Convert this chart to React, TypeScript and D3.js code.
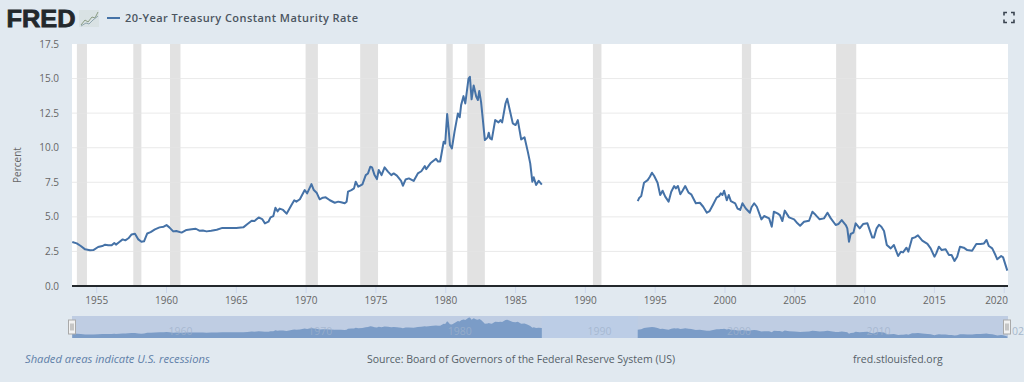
import React from "react";
import * as d3 from "d3";

const W = 1024, H = 382;
const FONT = "'Open Sans', 'Noto Sans', sans-serif";

const seriesName = "20-Year Treasury Constant Maturity Rate";
const yTicks = [0, 2.5, 5, 7.5, 10, 12.5, 15, 17.5];
const xTicks = [1955, 1960, 1965, 1970, 1975, 1980, 1985, 1990, 1995, 2000, 2005, 2010, 2015, 2020];
const navTicks = [1960, 1970, 1980, 1990, 2000, 2010];

const recessionStarts = [1953.58, 1957.62, 1960.25, 1969.96, 1973.87, 1980.04, 1981.54, 1990.54, 2001.21, 2007.96];
const recessionEnds = [1954.3, 1958.2, 1961.0, 1970.84, 1975.15, 1980.5, 1982.8, 1991.15, 2001.87, 2009.4];

const earlyYears = [1953.25,1953.57,1953.86,1954.17,1954.52,1954.76,1955.1,1955.4,1955.6,1955.83,1956.07,1956.26,1956.38,1956.62,1956.86,1957.05,1957.27,1957.5,1957.74,1957.98,1958.2,1958.39,1958.62,1958.86,1959.17,1959.5,1959.8,1960,1960.2,1960.48,1960.7,1961.08,1961.43,1961.8,1962.1,1962.35,1962.6,1962.87,1963.2,1963.6,1964,1964.4,1965,1965.5,1965.8,1966.1,1966.3,1966.6,1966.85,1967.05,1967.3,1967.45,1967.65,1967.8,1967.95,1968.1,1968.35,1968.6,1968.95,1969.15,1969.3,1969.55,1969.9,1970.07,1970.38,1970.55,1970.75,1970.97,1971.2,1971.4,1971.7,1972.05,1972.3,1972.5,1972.76,1972.9,1973,1973.24,1973.43,1973.55,1973.74,1974.03,1974.27,1974.43,1974.6,1974.72,1974.9,1975.07,1975.2,1975.4,1975.62,1975.86,1976.1,1976.27,1976.5,1976.8,1976.93,1977.12,1977.36,1977.7,1978,1978.25,1978.5,1978.6,1978.9,1979.3,1979.45,1979.6,1979.85,1979.96,1980.1,1980.2,1980.3,1980.44,1980.63,1980.87,1981,1981.1,1981.27,1981.4,1981.63,1981.73,1981.85,1982,1982.18,1982.3,1982.4,1982.53,1982.66,1982.8,1983,1983.08,1983.18,1983.3,1983.54,1983.78,1983.92,1984.04,1984.28,1984.4,1984.5,1984.8,1985,1985.16,1985.4,1985.64,1985.88,1986.05,1986.2,1986.3,1986.47,1986.66,1986.88];
const earlyRates = [3.18,3.08,2.89,2.65,2.58,2.6,2.82,2.89,2.99,2.94,2.94,3.11,2.99,3.18,3.37,3.3,3.45,3.73,3.78,3.37,3.2,3.23,3.8,3.9,4.1,4.24,4.29,4.41,4.24,3.95,3.98,3.86,4.05,4.1,4.14,4,4.02,3.95,4,4.07,4.2,4.19,4.19,4.24,4.48,4.72,4.7,4.96,4.84,4.53,4.65,4.96,5.06,5.66,5.4,5.6,5.5,5.23,5.86,6.2,6.1,6.27,6.94,6.7,7.37,6.94,6.75,6.27,6.39,6.41,6.2,6.02,6.1,6.05,5.98,6.1,6.82,6.94,7.06,7.54,7.18,7.35,8.02,8.14,8.63,8.58,8.02,7.73,8.39,8.02,8.58,8.27,8.02,8.14,7.98,7.6,7.25,7.7,7.78,7.6,8.14,8.3,8.67,8.45,8.87,9.2,9,9,10.43,10.3,12.43,11.4,10.2,9.95,11.16,12.48,12.2,13.08,13.73,13.2,15,15.13,13.5,14.5,13.7,13.45,14.1,13.3,12,10.55,10.75,11.08,10.67,10.6,12,11.83,12,11.83,13.2,13.54,13.1,11.76,11.64,12,10.6,10.75,9.7,8.87,7.54,7.86,7.3,7.6,7.33];

const lateYears = [1993.75,1993.85,1994,1994.2,1994.46,1994.62,1994.77,1994.93,1995.17,1995.36,1995.53,1995.72,1995.96,1996.15,1996.36,1996.48,1996.63,1996.8,1996.96,1997.15,1997.39,1997.58,1997.91,1998.2,1998.44,1998.7,1998.9,1999.15,1999.4,1999.58,1999.7,1999.82,1999.94,2000.13,2000.27,2000.42,2000.73,2000.9,2001.09,2001.25,2001.49,2001.78,2001.9,2002.09,2002.28,2002.61,2002.8,2003.16,2003.35,2003.5,2003.76,2003.93,2004.11,2004.28,2004.59,2004.95,2005.19,2005.38,2005.66,2006.02,2006.26,2006.5,2006.78,2007.09,2007.34,2007.58,2007.93,2008.12,2008.36,2008.65,2008.76,2008.88,2009,2009.2,2009.36,2009.65,2009.89,2010.2,2010.55,2010.67,2010.86,2011.03,2011.2,2011.39,2011.59,2011.87,2012.1,2012.4,2012.6,2012.75,2013,2013.13,2013.4,2013.6,2013.82,2014.13,2014.5,2014.73,2015,2015.13,2015.32,2015.52,2015.8,2016.04,2016.23,2016.44,2016.63,2016.83,2017.1,2017.35,2017.7,2018,2018.3,2018.55,2018.73,2018.9,2019.14,2019.37,2019.5,2019.78,2019.92,2020.22];
const lateRates = [6.14,6.36,6.5,7.47,7.66,7.9,8.19,7.95,7.47,6.58,6.89,6.46,6.1,6.82,7.23,7.06,7.23,6.63,6.89,7.23,6.75,6.63,5.98,6.02,5.73,5.3,5.42,5.9,6.39,6.5,6.7,6.58,6.89,6.2,6.58,6.14,5.98,5.6,5.5,5.98,5.6,5.3,5.69,5.98,5.73,4.82,5.06,4.89,4.29,5.37,5.25,5.13,4.7,5.45,4.96,4.82,4.53,4.36,4.65,4.72,5.37,5.13,4.82,4.89,5.3,4.89,4.41,4.48,4.77,4.41,4.17,3.2,3.76,3.86,4.53,4.17,4.48,4.53,3.5,3.5,4.17,4.43,4.29,3.98,2.96,2.72,2.96,2.17,2.48,2.43,2.77,2.48,3.45,3.52,3.66,3.28,3.04,2.72,2.12,2.36,2.84,2.6,2.65,2.24,2.24,1.81,2.12,2.84,2.77,2.6,2.55,3.04,3.04,3.08,3.33,2.89,2.72,2.24,1.93,2.17,2.07,1.11];

const toPoints = (xs: number[], ys: number[]) => xs.map((x, i) => [x, ys[i]] as [number, number]);

export default function App() {
  const plot = { left: 72, right: 1008, top: 44, bottom: 286 };
  const x = d3.scaleLinear().domain([1953.23, 2020.27]).range([plot.left, plot.right]);
  const y = d3.scaleLinear().domain([0, 17.5]).range([plot.bottom, plot.top]);
  const yNav = d3.scaleLinear().domain([0, 15.13]).range([338, 317.5]);
  const line = d3.line<[number, number]>().x(d => x(d[0])).y(d => y(d[1]));
  const area = d3.area<[number, number]>().x(d => x(d[0])).y0(338).y1(d => yNav(d[1]));
  const segments = [toPoints(earlyYears, earlyRates), toPoints(lateYears, lateRates)];
  const inkGrey = "#666666";
  const gapStart = x(earlyYears[earlyYears.length - 1]);
  const gapEnd = x(lateYears[0]);

  return (
    <svg width={W} height={H} viewBox={`0 0 ${W} ${H}`} style={{ position: "absolute", left: 0, top: 0, display: "block" }} fontFamily={FONT}>
      <rect width={W} height={H} fill="#e1e9f0" />

      {/* header */}
      <text x={6.5} y={27} fontFamily="'Liberation Sans', Arial, sans-serif" fontWeight={700} fontSize={24} textLength={69} lengthAdjust="spacingAndGlyphs" fill="#23282c" stroke="#23282c" strokeWidth={0.8}>FRED</text>
      <g fill="none" strokeWidth={1}>
        <rect x={79} y={10} width={20} height={17} fill="#d9e2e4" />
        <path d="M81 25 L85 20 L88 22 L92 17 L95 18 L98 12" stroke="#8a9c83" />
        <path d="M81 26 L86 23 L89 24 L93 20 L98 16" stroke="#8fa5ae" />
      </g>
      <line x1={107} x2={120} y1={18} y2={18} stroke="#4572a7" strokeWidth={2} />
      <text x={125} y={22} fontSize={11} fontWeight={600} fill="#4b5560" textLength={233} lengthAdjust="spacing">{seriesName}</text>
      <g fill="none" stroke="#3a4450" strokeWidth={1.6}>
        <path d="M1004 15.5 V12.5 H1007" />
        <path d="M1011 12.5 H1014 V15.5" />
        <path d="M1004 19.5 V22.5 H1007" />
        <path d="M1011 22.5 H1014 V19.5" />
      </g>

      {/* plot */}
      <rect x={plot.left} y={plot.top} width={plot.right - plot.left} height={plot.bottom - plot.top} fill="#ffffff" />
      {recessionStarts.map((s, i) => (
        <rect key={s} x={x(s)} y={plot.top} width={x(recessionEnds[i]) - x(s)} height={plot.bottom - plot.top} fill="#e2e2e2" />
      ))}
      {yTicks.filter(t => t > 0 && t < 17.5).map(t => (
        <line key={t} x1={plot.left} x2={plot.right} y1={y(t)} y2={y(t)} stroke="#e6e6e6" strokeWidth={1} opacity={0.8} />
      ))}
      {yTicks.map(t => (
        <text key={t} x={59} y={y(t) + 3.5} textAnchor="end" fontSize={10} fill={inkGrey}>{t.toFixed(1)}</text>
      ))}
      <text transform="translate(21,165) rotate(-90)" textAnchor="middle" fontSize={10} fill={inkGrey}>Percent</text>

      {xTicks.map(t => (
        <g key={t}>
          <line x1={x(t)} x2={x(t)} y1={plot.bottom} y2={plot.bottom + 7} stroke="#ccd6eb" />
          <text x={t === 2020 ? plot.right : x(t)} y={304} textAnchor={t === 2020 ? "end" : "middle"} fontSize={10} fill={inkGrey}>{t}</text>
        </g>
      ))}
      {segments.map((s, i) => (
        <path key={i} d={line(s) ?? ""} fill="none" stroke="#4572a7" strokeWidth={2} strokeLinejoin="round" />
      ))}
      <line x1={plot.left} x2={plot.right} y1={plot.bottom} y2={plot.bottom} stroke="#23282c" strokeWidth={2} />

      {/* navigator */}
      <rect x={plot.left} y={316} width={plot.right - plot.left} height={22} fill="#bfcde3" />
      <rect x={gapStart} y={316} width={gapEnd - gapStart} height={22} fill="#bccde6" />
      {segments.map((s, i) => (
        <path key={i} d={area(s) ?? ""} fill="#6f93c2" fillOpacity={0.85} />
      ))}
      {navTicks.map(t => (
        <text key={t} x={x(t) + 2} y={335} fontSize={10.5} fill="#9fb2cb" fillOpacity={0.75}>{t}</text>
      ))}
      <text x={1012} y={335} fontSize={10.5} fill="#a8b8cc">02</text>
      {[plot.left, plot.right - 1].map(h => (
        <g key={h}>
          <rect x={h - 3.5} y={320} width={7} height={14} fill="#f2f2f2" stroke="#a9a9a9" />
          <line x1={h - 1} x2={h - 1} y1={323.5} y2={330.5} stroke="#999" />
          <line x1={h + 1} x2={h + 1} y1={323.5} y2={330.5} stroke="#999" />
        </g>
      ))}

      {/* footer */}
      <text x={25} y={362.5} fontSize={11.2} fontStyle="italic" fill="#5f7fa8">Shaded areas indicate U.S. recessions</text>
      <text x={367} y={362.5} fontSize={10.5} fill="#555f68">Source: Board of Governors of the Federal Reserve System (US)</text>
      <text x={853} y={362.5} fontSize={10.5} fill="#555f68">fred.stlouisfed.org</text>
    </svg>
  );
}
